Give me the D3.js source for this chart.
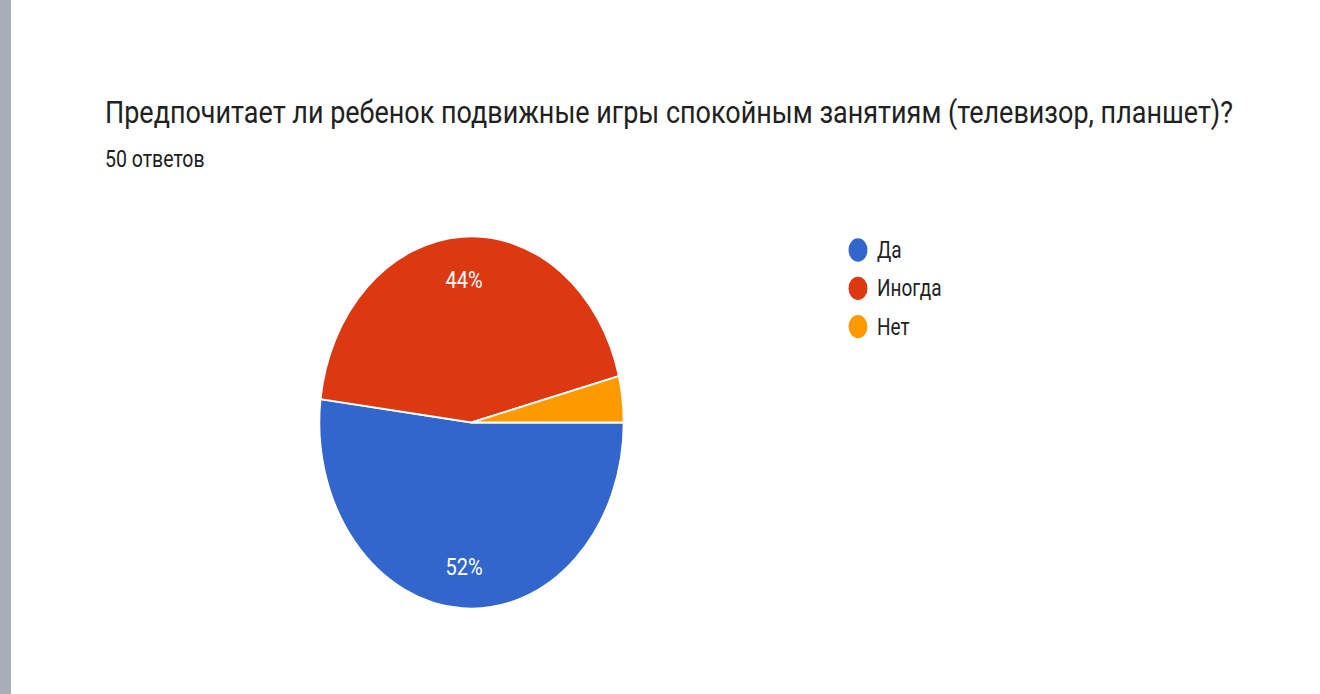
<!DOCTYPE html>
<html>
<head>
<meta charset="utf-8">
<script src="https://cdn.jsdelivr.net/npm/d3@7"></script>
<style>
  body { margin: 0; background: #fff; }
  svg { display: block; }
  text { font-family: Roboto, "Noto Sans", sans-serif; }
</style>
</head>
<body>
<script>
const w = 1320;
const h = 694;
const sy = 1.224; // the screenshot is stretched vertically

const categories = ["Да", "Иногда", "Нет"];
const counts = [26, 22, 2];
const colors = ["#3366cc", "#dc3912", "#ff9900"];
const title = "Предпочитает ли ребенок подвижные игры спокойным занятиям (телевизор, планшет)?";
const subtitle = "50 ответов";

const svg = d3.select("body").append("svg").attr("width", w).attr("height", h);

// grey strip on the left edge
svg.append("rect").attr("x", 0).attr("y", 0).attr("width", 11).attr("height", h).attr("fill", "#a9adb8");

const g = svg.append("g").attr("transform", `scale(1, ${sy})`);

g.append("text")
  .attr("x", 105)
  .attr("y", 123.5 / sy)
  .attr("font-size", 26)
  .attr("textLength", 1128)
  .attr("lengthAdjust", "spacingAndGlyphs")
  .attr("fill", "#212121")
  .text(title);

g.append("text")
  .attr("x", 105)
  .attr("y", 166.7 / sy)
  .attr("font-size", 19.5)
  .attr("fill", "#212121")
  .text(subtitle);

/* Pie */
const r = 152;
const total = d3.sum(counts);
const pie = d3
  .pie()
  .sort(null)
  .startAngle(Math.PI / 2)
  .endAngle(Math.PI / 2 + 2 * Math.PI);
const arc = d3.arc().innerRadius(0).outerRadius(r);
const labelArc = d3.arc().innerRadius(r * 0.773).outerRadius(r * 0.773);

const pieG = g.append("g").attr("transform", `translate(471.5, ${422.5 / sy})`);
const slices = pie(counts);

pieG
  .selectAll("path")
  .data(slices)
  .enter()
  .append("path")
  .attr("d", arc)
  .attr("fill", (d, i) => colors[i])
  .attr("stroke", "#fff")
  .attr("stroke-width", 1.5);

pieG
  .selectAll("text")
  .data(slices.filter((d) => d.value / total > 0.05))
  .enter()
  .append("text")
  .attr("transform", (d) => `translate(${labelArc.centroid(d)})`)
  .attr("text-anchor", "middle")
  .attr("dy", "0.35em")
  .attr("font-size", 20)
  .attr("fill", "#fff")
  .text((d) => Math.round((d.value / total) * 100) + "%");

/* Legend */
const legend = g.append("g").attr("transform", `translate(858, ${250 / sy})`);
const item = legend
  .selectAll("g")
  .data(categories)
  .enter()
  .append("g")
  .attr("transform", (d, i) => `translate(0, ${i * 31.3})`);

item.append("circle").attr("r", 9.5).attr("fill", (d, i) => colors[i]);

item
  .append("text")
  .attr("x", 19)
  .attr("dy", "0.35em")
  .attr("font-size", 19)
  .attr("fill", "#222")
  .text((d) => d);
</script>
</body>
</html>
